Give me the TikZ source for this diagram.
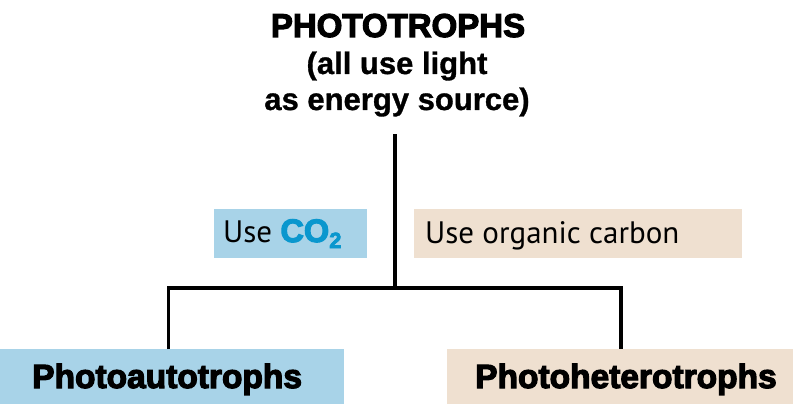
\documentclass[tikz,border=0pt]{standalone}
\usepackage{fontspec}
\setmainfont{Liberation Sans}
\newfontfamily\heavyfont[FakeBold=3.5]{Liberation Sans Bold}
\newfontfamily\boldfont[FakeBold=1]{Liberation Sans Bold}
\newfontfamily\labelfont{PT Sans}
\definecolor{bluebox}{HTML}{A8D3E8}
\definecolor{beigebox}{HTML}{EFE0D0}
\definecolor{cocolor}{HTML}{0A97CE}
\tikzset{
  title/.style={inner sep=0pt, anchor=base, font=\fontsize{31}{31}\selectfont\boldfont},
  lab/.style={inner sep=0pt, anchor=base west, font=\fontsize{31}{31}\selectfont\labelfont},
  group/.style={inner sep=0pt, anchor=base west, font=\fontsize{33.5}{33.5}\selectfont\heavyfont},
}
\begin{document}
\begin{tikzpicture}[x=1pt,y=-1pt]
\useasboundingbox (0,0) rectangle (803,404);
% boxes
\fill[bluebox] (214,209) rectangle (367,258);
\fill[beigebox] (414,209) rectangle (742,258);
\fill[bluebox] (0,349) rectangle (344,404);
\fill[beigebox] (447,349) rectangle (793,404);
% title
\node[title, font=\fontsize{33}{33}\selectfont\heavyfont] (t1) at (398,37) {PHOTOTROPHS};
\node[title] (t2) at (397,74) {(all use light};
\node[title] (t3) at (397,110) {as energy source)};
% labels
\node[lab] (co2) at (223,242) {Use {\fontsize{32.5}{32.5}\selectfont\heavyfont\color{cocolor}CO\raisebox{-6pt}{\fontsize{22}{22}\selectfont 2}}};
\node[lab] (org) at (425,243) {Use organic carbon};
\node[group] (auto) at (32,388) {Photoautotrophs};
\node[group] (hetero) at (475,388) {Photoheterotrophs};
% connectors
\coordinate (top) at (395,134);
\coordinate (junc) at (395,288);
\coordinate (lj) at (168.5,288);
\coordinate (rj) at (621,288);
\coordinate (lb) at (168.5,349);
\coordinate (rb) at (621,349);
\draw[line width=3.6pt] (top) -- (junc);
\draw[line width=3.6pt] (lb) -- (lj) -- (rj) -- (rb);
\end{tikzpicture}
\end{document}
